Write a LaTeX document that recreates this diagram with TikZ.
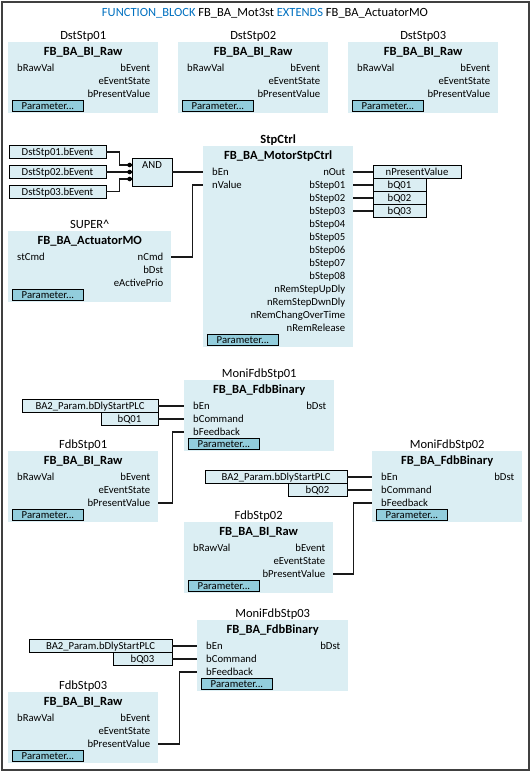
\documentclass[tikz,border=0pt]{standalone}
\usepackage{fontspec}
\setmainfont{Carlito}
\usetikzlibrary{calc}
\definecolor{blkfill}{RGB}{219,238,243}
\definecolor{parfill}{RGB}{146,205,220}
\definecolor{kwblue}{RGB}{0,112,192}
\definecolor{wirec}{RGB}{25,25,25}
\newcommand\portfont{\fontsize{10.7}{12}\selectfont}
\newcommand\headfont{\fontsize{12.5}{14}\selectfont}
\tikzset{
  blk/.style={fill=blkfill, draw=none, inner sep=0pt, anchor=north west},
  port/.style={font=\portfont, inner sep=0pt, text height=7pt, text depth=0pt},
  instlbl/.style={font=\headfont, inner sep=0pt, text height=8pt, text depth=0pt},
  fbtitle/.style={font=\bfseries\headfont, inner sep=0pt, text height=8pt, text depth=0pt},
  parbtn/.style={fill=parfill, draw=black, line width=0.9pt, inner sep=0pt, minimum width=71pt,
    minimum height=10.5pt, anchor=north west, font=\portfont, text height=7pt, text depth=0pt},
  varbox/.style={fill=blkfill, draw=black, line width=0.8pt, inner sep=0pt, minimum height=13pt,
    font=\portfont, text height=7pt, text depth=0pt},
  wire/.style={draw=wirec, line width=1.3pt},
  thickwire/.style={draw=wirec, line width=2pt},
}
% #1 name, #2 left, #3 top, #4 width, #5 rows, #6 instance, #7 type
\newcommand\fbblock[7]{%
  \pgfmathsetmacro\fbh{32+13*#5}
  \node[blk, minimum width=#4pt, minimum height=\fbh pt] (#1) at (#2,#3) {};
  \node[instlbl] (#1-inst) at ($(#1.north)+(0,-7)$) {#6};
  \node[fbtitle] (#1-type) at ($(#1.north)+(0,9.5)$) {#7};
  \node[parbtn] (#1-par) at ($(#1.south west)+(4,-13)$) {Parameter...};
}
% #1 name, #2 inputs, #3 outputs
\newcommand\fbports[3]{%
  \foreach \t [count=\i] in {#2} {\node[port, anchor=west] (#1-l\i) at ($(#1.north west)+(9,{26+13*(\i-1)})$) {\t};}
  \foreach \t [count=\i] in {#3} {\node[port, anchor=east] (#1-r\i) at ($(#1.north east)+(-8,{26+13*(\i-1)})$) {\t};}
}
\begin{document}
\begin{tikzpicture}[x=1pt,y=-1pt]
\useasboundingbox (0,0) rectangle (532,772);
\draw[line width=1.4pt, draw=black!75] (2,2) rectangle (529,770);

\node[instlbl] (title) at (265,12) {\textcolor{kwblue}{FUNCTION\_BLOCK} FB\_BA\_Mot3st \textcolor{kwblue}{EXTENDS} FB\_BA\_ActuatorMO};

% top row
\fbblock{ds1}{8}{42}{150}{3}{DstStp01}{FB\_BA\_BI\_Raw}
\fbports{ds1}{bRawVal}{bEvent,eEventState,bPresentValue}
\fbblock{ds2}{178}{42}{150}{3}{DstStp02}{FB\_BA\_BI\_Raw}
\fbports{ds2}{bRawVal}{bEvent,eEventState,bPresentValue}
\fbblock{ds3}{348}{42}{150}{3}{DstStp03}{FB\_BA\_BI\_Raw}
\fbports{ds3}{bRawVal}{bEvent,eEventState,bPresentValue}

% AND section
\node[varbox, minimum width=97pt] (d1) at (57.5,152) {DstStp01.bEvent};
\node[varbox, minimum width=97pt] (d2) at (57.5,172) {DstStp02.bEvent};
\node[varbox, minimum width=97pt] (d3) at (57.5,191.5) {DstStp03.bEvent};
\node[varbox, minimum width=40pt, minimum height=28pt] (and) at (152,172) {};
\node[port] (and-t) at ($(and.north)+(0,7)$) {AND};

% StpCtrl
\fbblock{stp}{203}{146}{150}{13}{\bfseries StpCtrl}{FB\_BA\_MotorStpCtrl}
\fbports{stp}{bEn,nValue}{nOut,bStep01,bStep02,bStep03,bStep04,bStep05,bStep06,bStep07,bStep08,nRemStepUpDly,nRemStepDwnDly,nRemChangOverTime,nRemRelease}
\node[varbox, minimum width=88pt] (o1) at (417,172) {nPresentValue};
\node[varbox, minimum width=53pt] (o2) at (399.5,185) {bQ01};
\node[varbox, minimum width=53pt] (o3) at (399.5,198) {bQ02};
\node[varbox, minimum width=53pt] (o4) at (399.5,211) {bQ03};

% SUPER
\fbblock{act}{8}{231}{163}{3}{SUPER\textasciicircum}{FB\_BA\_ActuatorMO}
\fbports{act}{stCmd}{nCmd,bDst,eActivePrio}

% MoniFdbStp01 / FdbStp01
\fbblock{m1}{184}{380}{150}{3}{MoniFdbStp01}{FB\_BA\_FdbBinary}
\fbports{m1}{bEn,bCommand,bFeedback}{bDst}
\node[varbox, minimum width=136pt] (e1) at (90,406) {BA2\_Param.bDlyStartPLC};
\node[varbox, minimum width=57pt] (q1) at (129.5,419) {bQ01};
\fbblock{f1}{8}{451}{150}{3}{FdbStp01}{FB\_BA\_BI\_Raw}
\fbports{f1}{bRawVal}{bEvent,eEventState,bPresentValue}

% MoniFdbStp02 / FdbStp02
\fbblock{m2}{372}{451}{150}{3}{MoniFdbStp02}{FB\_BA\_FdbBinary}
\fbports{m2}{bEn,bCommand,bFeedback}{bDst}
\node[varbox, minimum width=142pt] (e2) at (276,477) {BA2\_Param.bDlyStartPLC};
\node[varbox, minimum width=59pt] (q2) at (317.5,490) {bQ02};
\fbblock{f2}{184}{522}{149}{3}{FdbStp02}{FB\_BA\_BI\_Raw}
\fbports{f2}{bRawVal}{bEvent,eEventState,bPresentValue}

% MoniFdbStp03 / FdbStp03
\fbblock{m3}{197}{620}{151}{3}{MoniFdbStp03}{FB\_BA\_FdbBinary}
\fbports{m3}{bEn,bCommand,bFeedback}{bDst}
\node[varbox, minimum width=143pt] (e3) at (100.5,646) {BA2\_Param.bDlyStartPLC};
\node[varbox, minimum width=59pt] (q3) at (142.5,659) {bQ03};
\fbblock{f3}{8}{692}{150}{3}{FdbStp03}{FB\_BA\_BI\_Raw}
\fbports{f3}{bRawVal}{bEvent,eEventState,bPresentValue}

% wires
\draw[wire] (d1.east) -- ++(13,0) |- ($(and.west)+(0,-7)$);
\draw[wire] (d2.east) -- (and.west);
\draw[wire] (d3.east) -- ++(13,0) |- ($(and.west)+(0,7)$);
\foreach \dy in {-7,0,7} \fill[black] ($(and.west)+(-2,\dy)$) circle (2.3);
\draw[wire] (and.east) -- (stp-l1 -| stp.west);
\draw[wire] (act-r1 -| act.east) -- ++(21,0) |- (stp-l2 -| stp.west);
\draw[thickwire] (stp-r1 -| stp.east) -- (o1.west);
\draw[thickwire] (stp-r2 -| stp.east) -- (o2.west);
\draw[thickwire] (stp-r3 -| stp.east) -- (o3.west);
\draw[thickwire] (stp-r4 -| stp.east) -- (o4.west);

\draw[wire] (e1.east) -- (m1-l1 -| m1.west);
\draw[wire] (q1.east) -- (m1-l2 -| m1.west);
\draw[wire] (f1-r3 -| f1.east) -- ++(14,0) |- (m1-l3 -| m1.west);

\draw[wire] (e2.east) -- (m2-l1 -| m2.west);
\draw[wire] (q2.east) -- (m2-l2 -| m2.west);
\draw[wire] (f2-r3 -| f2.east) -- ++(20,0) |- (m2-l3 -| m2.west);

\draw[wire] (e3.east) -- (m3-l1 -| m3.west);
\draw[wire] (q3.east) -- (m3-l2 -| m3.west);
\draw[wire] (f3-r3 -| f3.east) -- ++(21,0) |- (m3-l3 -| m3.west);
\end{tikzpicture}
\end{document}
